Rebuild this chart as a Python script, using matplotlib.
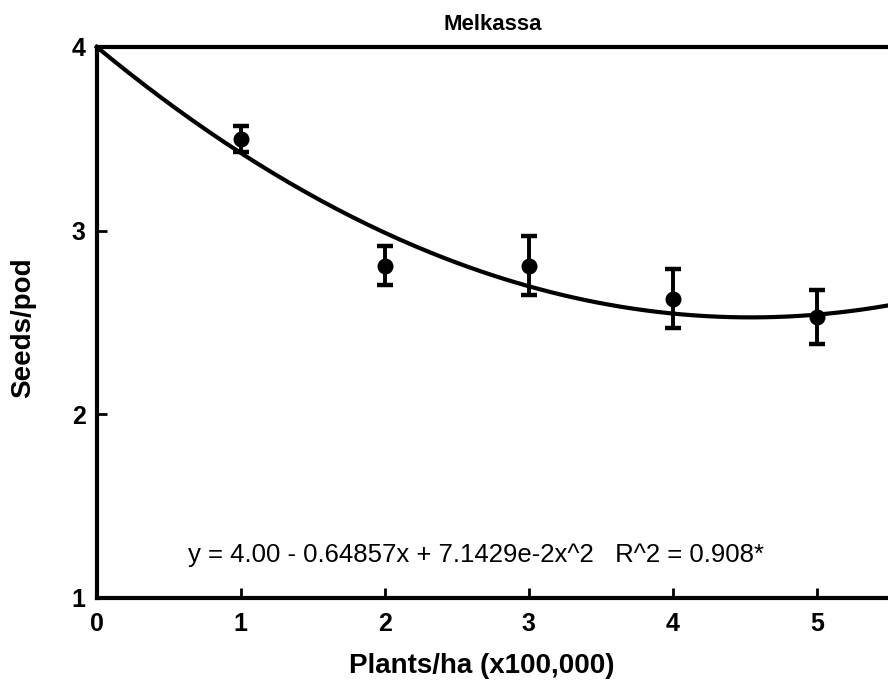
import numpy as np
import matplotlib
matplotlib.use("Agg")
import matplotlib.pyplot as plt

plt.rcParams['font.family'] = ['Liberation Sans', 'DejaVu Sans']

# plant density (x100,000 plants/ha) and mean seeds per pod
density = [1, 2, 3, 4, 5]
seeds_per_pod = [3.50, 2.81, 2.81, 2.63, 2.53]
seeds_err = [0.07, 0.105, 0.163, 0.16, 0.147]

# quadratic fit: y = b0 + b1*x + b2*x^2
fit_coef = [4.00, -0.64857, 7.1429e-2]
fit_label = "y = 4.00 - 0.64857x + 7.1429e-2x^2   R^2 = 0.908*"

x_ticks = [0, 1, 2, 3, 4, 5]
y_ticks = [1, 2, 3, 4]

fig = plt.figure(figsize=(8.88, 6.95), dpi=100)
ax = fig.add_axes([0.109, 0.1396, 0.892, 0.7928])

xs = np.linspace(0, 5.5, 200)
ys = fit_coef[0] + fit_coef[1] * xs + fit_coef[2] * xs ** 2
ax.plot(xs, ys, color='black', lw=3, clip_on=False, zorder=2)

ax.errorbar(density, seeds_per_pod, yerr=seeds_err, fmt='o', color='black',
            markersize=10.5, elinewidth=2.8, capsize=6, capthick=3.2, zorder=3)

ax.text(2.63, 1.235, fit_label, ha='center', va='center', fontsize=18.5)

ax.set_xlim(0, 5.5)
ax.set_ylim(1, 4)
ax.set_xticks(x_ticks)
ax.set_yticks(y_ticks)
ax.tick_params(direction='in', length=7, width=2, labelsize=18)
ax.tick_params(axis='x', pad=10)
ax.tick_params(axis='y', pad=8)
for lab in ax.get_xticklabels() + ax.get_yticklabels():
    lab.set_fontweight('bold')

for side in ['left', 'bottom', 'top']:
    ax.spines[side].set_linewidth(3)
ax.spines['right'].set_visible(False)

ax.set_title("Melkassa", fontsize=16, fontweight='bold', pad=12)
ax.set_xlabel("Plants/ha (x100,000)", fontsize=20, fontweight='bold')
ax.set_ylabel("Seeds/pod", fontsize=20, fontweight='bold')
ax.xaxis.set_label_coords(0.486, -0.1)
ax.yaxis.set_label_coords(-0.077, 0.49)

fig.savefig("out.png", dpi=100)
